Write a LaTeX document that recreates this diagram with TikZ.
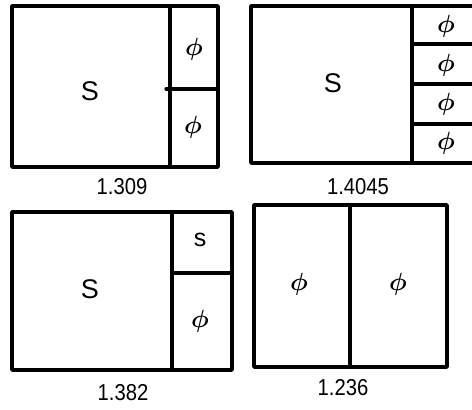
\documentclass[tikz,border=0pt]{standalone}
\usepackage{amsmath}
\usepackage{bm}
\usepackage{fontspec}
\setmainfont{Liberation Sans}
\usetikzlibrary{positioning}

\tikzset{
  frame/.style={line width=3.4pt, line cap=round, line join=round},
  divider/.style={line width=3.2pt, line cap=round},
  ratio/.style={font=\fontsize{23}{27}\selectfont, xscale=0.88},
  bigS/.style={font=\fontsize{27}{32}\selectfont},
  smallS/.style={font=\fontsize{25}{30}\selectfont},
  phibig/.style={font=\fontsize{32}{38}\selectfont},
  phismall/.style={font=\fontsize{24}{28}\selectfont}
}

\begin{document}
\begin{tikzpicture}[x=1pt, y=-1pt]
  \useasboundingbox (0,0) rectangle (472,410);

  % === 左上：1.309 ===
  \draw[frame] (12,6) rectangle (218,167);
  \draw[divider] (170,6) -- (170,167);
  \draw[divider] (166,89) -- (218,89);
  \node[bigS] (sA) at (90,91) {S};
  \node[phibig] (pA1) at (194,49) {$\bm{\phi}$};
  \node[phibig] (pA2) at (193,127) {$\bm{\phi}$};
  \node[ratio] (rA) at (122,187) {1.309};

  % === 右上：1.4045（右边界超出画面）===
  \draw[frame] (472,6) -- (251,6) -- (251,163) -- (472,163);
  \draw[divider] (412,6) -- (412,163);
  \foreach \yy in {44,84,124}
    \draw[divider] (412,\yy) -- (472,\yy);
  \node[bigS] (sB) at (333,83) {S};
  \foreach \yy/\nm in {26/1,65/2,104/3,143/4}
    \node[phismall] (pB\nm) at (446,\yy) {$\bm{\phi}$};
  \node[ratio] (rB) at (358,187) {1.4045};

  % === 左下：1.382 ===
  \draw[frame] (12,212) rectangle (232,370);
  \draw[divider] (172,212) -- (172,370);
  \draw[divider] (172,273) -- (232,273);
  \node[bigS] (sC) at (90,289) {S};
  \node[smallS] (sC2) at (200,240) {s};
  \node[phibig] (pC) at (200,321) {$\bm{\phi}$};
  \node[ratio] (rC) at (123,393) {1.382};

  % === 右下：1.236 ===
  \draw[frame] (254,205) rectangle (447,367);
  \draw[divider] (350,205) -- (350,367);
  \node[phibig] (pD1) at (299,284) {$\bm{\phi}$};
  \node[phibig] (pD2) at (398,284) {$\bm{\phi}$};
  \node[ratio] (rD) at (343,388) {1.236};
\end{tikzpicture}
\end{document}
